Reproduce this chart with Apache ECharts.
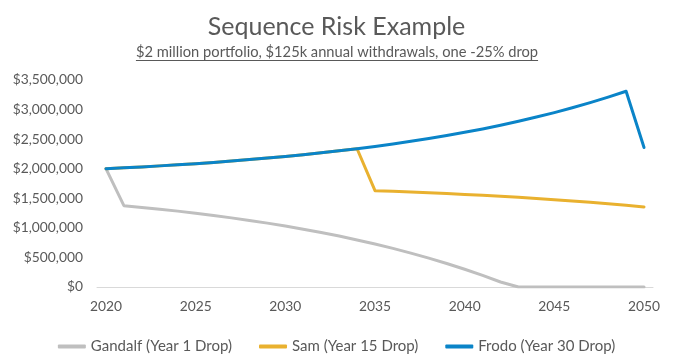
<!DOCTYPE html>
<html>
<head>
<meta charset="utf-8">
<script src="https://cdn.jsdelivr.net/npm/echarts@6/dist/echarts.min.js"></script>
<style>
html,body{margin:0;padding:0;background:#fff;}
#chart{width:673px;height:360px;}
</style>
</head>
<body>
<div id="chart"></div>
<script>
const years = ['2020','2021','2022','2023','2024','2025','2026','2027','2028','2029','2030','2031','2032','2033','2034','2035','2036','2037','2038','2039','2040','2041','2042','2043','2044','2045','2046','2047','2048','2049','2050'];
const gandalf = [2000000,1375000,1346000,1316000,1283000,1247000,1210000,1169000,1126000,1080000,1031000,978000,921000,861000,796000,727000,653000,573000,488000,398000,300000,196000,85000,0,0,0,0,0,0,0,0];
const sam = [2000000,2015000,2031000,2048000,2067000,2086000,2107000,2130000,2154000,2180000,2207000,2237000,2268000,2302000,2338000,1629000,1618000,1606000,1593000,1580000,1566000,1550000,1534000,1516000,1497000,1477000,1455000,1432000,1407000,1381000,1353000];
const frodo = [2000000,2015000,2031000,2048000,2067000,2086000,2107000,2130000,2154000,2180000,2207000,2237000,2268000,2302000,2338000,2377000,2418000,2463000,2510000,2561000,2615000,2673000,2735000,2802000,2873000,2949000,3030000,3117000,3211000,3310000,2358000];
const seriesNames = ['Gandalf (Year 1 Drop)','Sam (Year 15 Drop)','Frodo (Year 30 Drop)'];
const titleText = 'Sequence Risk Example';
const subtitleText = '$2 million portfolio, $125k annual withdrawals, one -25% drop';

const FONT = 'Lato, "Noto Sans", sans-serif';
const TXT = '#595959';
const colors = ['#BFBFBF', '#E9B12F', '#0A84C8'];

const subFontSize = 14.7;
const c = document.createElement('canvas').getContext('2d');
c.font = subFontSize + 'px Lato';
const subW = c.measureText(subtitleText).width;
const cx = 337;

const chart = echarts.init(document.getElementById('chart'), null, {renderer: 'canvas'});
function mkSeries(name, data, color) {
  return {
    name: name, type: 'line', data: data, symbol: 'none', smooth: false,
    lineStyle: {color: color, width: 3, cap: 'round', join: 'round'},
    itemStyle: {color: color},
    emphasis: {disabled: true}
  };
}
chart.setOption({
  animation: false,
  color: colors,
  title: {
    text: titleText, left: 'center', top: 9,
    textStyle: {fontFamily: FONT, fontSize: 25, fontWeight: 'normal', color: TXT}
  },
  graphic: [
    {type: 'text', x: cx, y: 52.5, style: {text: subtitleText, font: subFontSize + 'px Lato', fill: TXT, align: 'center', verticalAlign: 'middle'}},
    {type: 'line', shape: {x1: cx - subW / 2, y1: 60.5, x2: cx + subW / 2, y2: 60.5}, style: {stroke: TXT, lineWidth: 1}}
  ],
  legend: {
    data: seriesNames, top: 334, left: 'center', itemWidth: 28, itemHeight: 4, itemGap: 27,
    icon: 'roundRect',
    textStyle: {fontFamily: FONT, fontSize: 15, color: TXT}
  },
  grid: {left: 97, right: 20, top: 80, bottom: 73, containLabel: false},
  xAxis: {
    type: 'category', data: years, boundaryGap: true,
    axisLine: {lineStyle: {color: '#D9D9D9', width: 1}},
    axisTick: {show: false},
    axisLabel: {interval: 4, margin: 13, fontFamily: FONT, fontSize: 13.8, color: TXT}
  },
  yAxis: {
    type: 'value', min: 0, max: 3500000, interval: 500000,
    axisLine: {show: false}, axisTick: {show: false}, splitLine: {show: false},
    axisLabel: {margin: 14, fontFamily: FONT, fontSize: 13.8, color: TXT,
      formatter: v => '$' + v.toLocaleString('en-US')}
  },
  series: [
    mkSeries(seriesNames[0], gandalf, colors[0]),
    mkSeries(seriesNames[1], sam, colors[1]),
    mkSeries(seriesNames[2], frodo, colors[2])
  ]
});
</script>
</body>
</html>
